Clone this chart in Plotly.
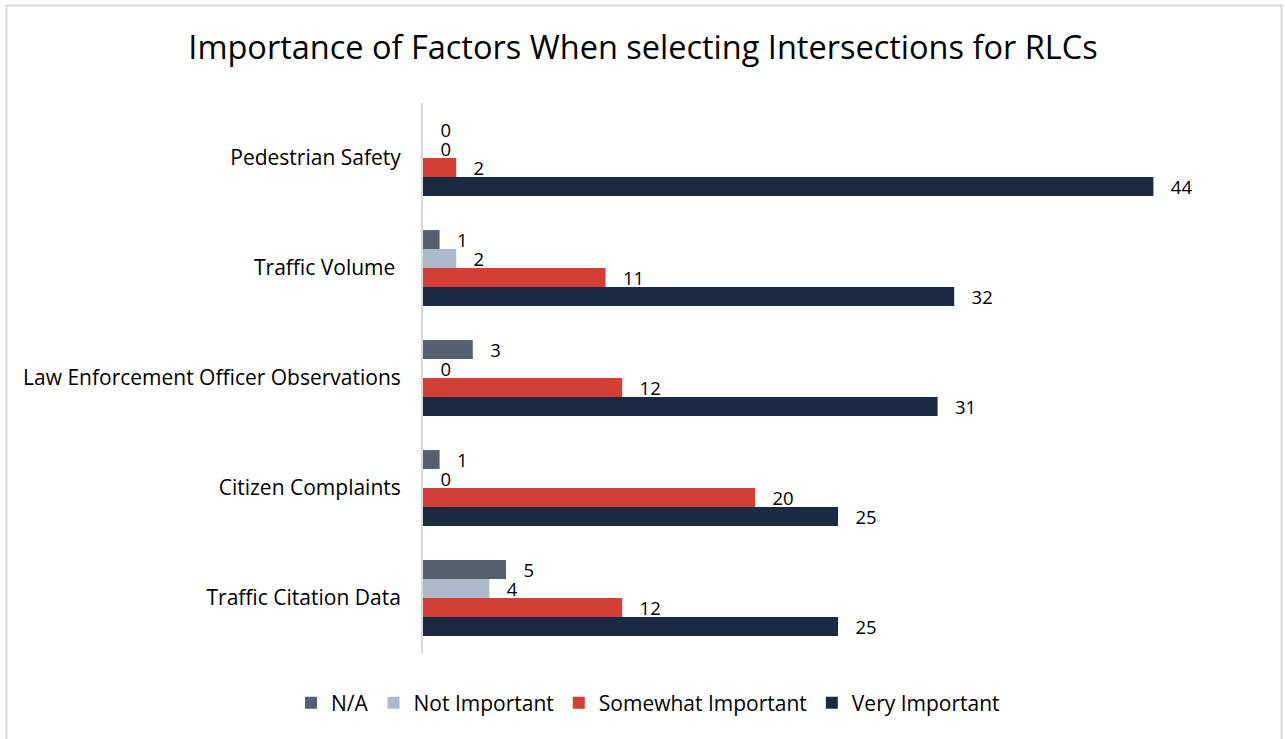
import plotly.graph_objects as go

categories = ["Pedestrian Safety", "Traffic Volume ", "Law Enforcement Officer Observations",
              "Citizen Complaints", "Traffic Citation Data"]
series_names = ["N/A", "Not Important", "Somewhat Important", "Very Important"]
na_vals = [0, 1, 3, 1, 5]
not_important = [0, 2, 0, 0, 4]
somewhat_important = [2, 11, 12, 20, 12]
very_important = [44, 32, 31, 25, 25]
colors = ["#56606f", "#adb9ca", "#d43f35", "#1b2a44"]

W, H = 1285, 739
L, R, T, B = 423, 32, 103, 86
FONT = "Open Sans"

fig = go.Figure()
for name, vals, col in zip(series_names,
                           [na_vals, not_important, somewhat_important, very_important],
                           colors):
    fig.add_trace(go.Bar(
        name=name, y=categories, x=vals, orientation="h",
        marker=dict(color=col, line=dict(width=0)),
        text=[f"   {v}" for v in vals], textposition="outside",
        constraintext="none",
        textfont=dict(size=18.5, color="#000000", family=FONT),
        cliponaxis=False,
    ))

fig.update_layout(
    width=W, height=H,
    margin=dict(l=L, r=R, t=T, b=B),
    barmode="group", bargap=0.31, bargroupgap=0,
    plot_bgcolor="white", paper_bgcolor="white",
    font=dict(family=FONT, size=21, color="#000000"),
    title=dict(text="Importance of Factors When selecting Intersections for RLCs",
               font=dict(size=32.5, color="#000000", family=FONT),
               xref="container", x=643 / W, xanchor="center",
               yref="container", y=1 - 48 / H, yanchor="middle"),
    legend=dict(orientation="h", xref="container", x=648 / W, xanchor="center",
                yref="container", y=1 - 703 / H, yanchor="middle",
                font=dict(size=21, family=FONT), traceorder="normal",
                itemwidth=30),
    xaxis=dict(range=[0, 50], showgrid=False, showticklabels=False, zeroline=False,
               showline=False, ticks=""),
    yaxis=dict(autorange="reversed", showline=True, linecolor="#d9d9d9", linewidth=2,
               showgrid=False, ticks="", ticklabelstandoff=16,
               tickfont=dict(size=21, family=FONT)),
    showlegend=True,
)

# outer chart border
pw = W - L - R
ph = H - T - B
def px_to_paper_x(px):
    return (px - L) / pw
def px_to_paper_y(py):
    return 1 - (py - T) / ph
fig.add_shape(type="rect", xref="paper", yref="paper",
              x0=px_to_paper_x(6.5), x1=px_to_paper_x(1281.5),
              y0=px_to_paper_y(745), y1=px_to_paper_y(5.5),
              line=dict(color="#d9d9d9", width=2), fillcolor="rgba(0,0,0,0)", layer="below")

fig.write_html("out.html", config={"displayModeBar": False},
               post_script="document.body.style.margin='0';")
